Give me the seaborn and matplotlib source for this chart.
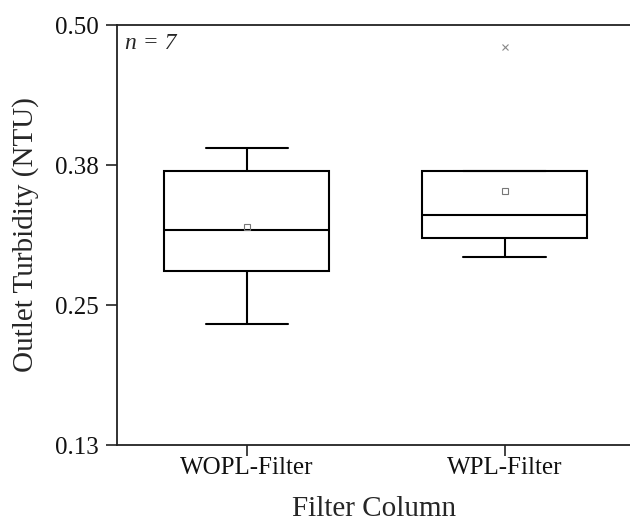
import numpy as np
import pandas as pd
import matplotlib
matplotlib.use("Agg")
import matplotlib.pyplot as plt
import seaborn as sns

# ---------- Data (n = 7 per column) ----------
columns = ["WOPL-Filter", "WPL-Filter"]
wopl_turbidity = [0.233, 0.272, 0.288, 0.317, 0.362, 0.378, 0.390]
wpl_turbidity = [0.293, 0.300, 0.320, 0.330, 0.370, 0.370, 0.480]
y_ticks = [0.125, 0.25, 0.375, 0.50]
y_tick_labels = ["0.13", "0.25", "0.38", "0.50"]

df = pd.DataFrame({
    "Filter Column": [columns[0]] * len(wopl_turbidity) + [columns[1]] * len(wpl_turbidity),
    "Outlet Turbidity (NTU)": wopl_turbidity + wpl_turbidity,
})

sns.set_style("ticks")
plt.rcParams["font.family"] = ["Liberation Serif", "DejaVu Serif"]

fig = plt.figure(figsize=(6.3, 5.27), dpi=100)
ax = fig.add_axes([117 / 630, 82 / 527, 514 / 630, 420 / 527])

sns.boxplot(
    data=df, x="Filter Column", y="Outlet Turbidity (NTU)", ax=ax,
    width=0.64, color="white", linecolor="black", linewidth=1.5,
    showmeans=True,
    meanprops=dict(marker="s", markerfacecolor="none", markeredgecolor="#777777",
                   markersize=4, markeredgewidth=0.8),
    flierprops=dict(marker="x", markeredgecolor="#888888", markersize=5,
                    markeredgewidth=0.8),
)

ax.set_xlim(-0.504, 1.49)
ax.set_ylim(0.125, 0.50)
ax.set_yticks(y_ticks)
ax.set_yticklabels(y_tick_labels)

for side in ["left", "bottom", "top"]:
    ax.spines[side].set_linewidth(1.3)
    ax.spines[side].set_color("#222222")
ax.spines["right"].set_visible(False)
ax.tick_params(axis="both", length=8, width=1.2, labelsize=18, color="#222222",
               labelcolor="#111111")
ax.tick_params(axis="y", pad=5)
ax.tick_params(axis="x", pad=1)

ax.set_xlabel("Filter Column", fontsize=21, labelpad=12)
ax.set_ylabel("Outlet Turbidity (NTU)", fontsize=21, labelpad=12)

ax.text(0.015, 0.955, "n = 7", transform=ax.transAxes, fontsize=17,
        style="italic", ha="left", va="center")

fig.savefig("out.png", dpi=100)
plt.close(fig)
